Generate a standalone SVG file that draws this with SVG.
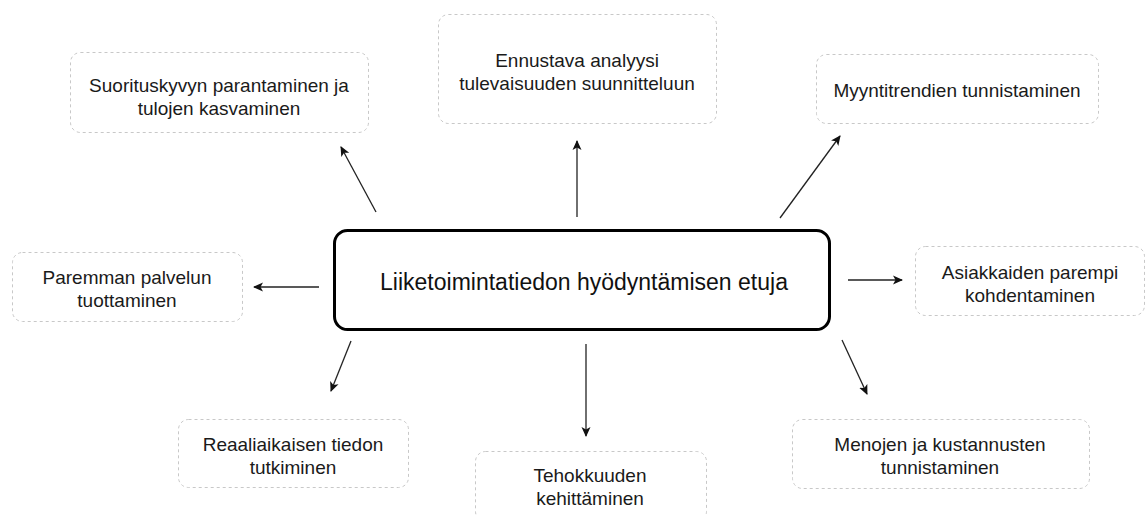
<svg xmlns="http://www.w3.org/2000/svg" width="1146" height="516" viewBox="0 0 1146 516">
<style>
.node rect{fill:#fff;stroke:#c8c8c8;stroke-width:1;stroke-dasharray:3 3}
.node text{font-family:"Liberation Sans",Arial,sans-serif;font-size:19px;fill:#1a1a1a;text-anchor:middle}
#center rect{fill:#fff;stroke:#000;stroke-width:3}
#center text{font-family:"Liberation Sans",Arial,sans-serif;font-size:23px;fill:#111;text-anchor:middle}
#connectors line{stroke:#222;stroke-width:1.3;marker-end:url(#arr)}
</style>
<defs>
<marker id="arr" viewBox="0 0 10 10" refX="9" refY="5" markerWidth="10" markerHeight="10" markerUnits="userSpaceOnUse" orient="auto">
<path d="M0,0.5 L10,5 L0,9.5 L2.5,5 z" fill="#111"/>
</marker>
</defs>
<rect width="1146" height="516" fill="#fff"/>
<g id="connectors">
<line x1="376" y1="212" x2="341" y2="147"/>
<line x1="577" y1="217" x2="577" y2="141"/>
<line x1="780" y1="218" x2="840" y2="136"/>
<line x1="319" y1="287" x2="254" y2="287"/>
<line x1="351" y1="341" x2="331" y2="391"/>
<line x1="586" y1="344" x2="586" y2="436"/>
<line x1="848" y1="280" x2="902" y2="280"/>
<line x1="842" y1="340" x2="867" y2="394"/>
</g>
<g id="center">
<rect x="334.5" y="230.5" width="495" height="99" rx="13"/>
<text x="584" y="290">Liiketoimintatiedon hyödyntämisen etuja</text>
</g>
<g id="n1" class="node">
<rect x="70.5" y="52.5" width="298" height="80" rx="10"/>
<text x="219" y="92">Suorituskyvyn parantaminen ja</text>
<text x="219" y="115">tulojen kasvaminen</text>
</g>
<g id="n2" class="node">
<rect x="438.5" y="14.5" width="278" height="109" rx="10"/>
<text x="577" y="67">Ennustava analyysi</text>
<text x="577" y="90">tulevaisuuden suunnitteluun</text>
</g>
<g id="n3" class="node">
<rect x="816.5" y="54.5" width="282" height="69" rx="10"/>
<text x="957" y="97">Myyntitrendien tunnistaminen</text>
</g>
<g id="n4" class="node">
<rect x="12.5" y="252.5" width="230" height="69" rx="10"/>
<text x="127" y="284">Paremman palvelun</text>
<text x="127" y="307">tuottaminen</text>
</g>
<g id="n5" class="node">
<rect x="178.5" y="419.5" width="230" height="68" rx="10"/>
<text x="293" y="451">Reaaliaikaisen tiedon</text>
<text x="293" y="474">tutkiminen</text>
</g>
<g id="n6" class="node">
<rect x="475.5" y="451.5" width="231" height="70" rx="10"/>
<text x="590" y="482">Tehokkuuden</text>
<text x="590" y="505">kehittäminen</text>
</g>
<g id="n7" class="node">
<rect x="915.5" y="246.5" width="229" height="69" rx="10"/>
<text x="1030" y="279">Asiakkaiden parempi</text>
<text x="1030" y="302">kohdentaminen</text>
</g>
<g id="n8" class="node">
<rect x="792.5" y="419.5" width="297" height="69" rx="10"/>
<text x="940" y="451">Menojen ja kustannusten</text>
<text x="940" y="474">tunnistaminen</text>
</g>
</svg>
